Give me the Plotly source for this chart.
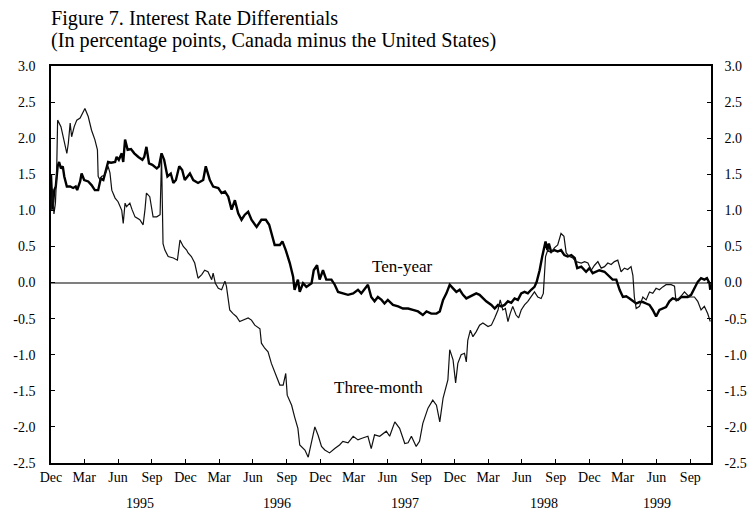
import pandas as pd
import plotly.graph_objects as go

# ---------------- data ----------------
BASE_DATE = "1994-12-01"  # offsets below are days since this date

ten_year_days = [0, 4, 9, 13, 18, 22, 27, 32, 36, 43, 52, 60, 67, 71, 79, 83, 90, 101, 110, 119,
                 128, 135, 142, 146, 155, 163, 174, 178, 184, 192, 196, 201, 208, 217, 226, 237, 248, 253, 259, 266,
                 275, 287, 293, 300, 307, 316, 325, 332, 339, 348, 356, 363, 377, 386, 399, 413, 420, 431, 440, 454,
                 463, 472, 481, 490, 499, 508, 517, 526, 535, 544, 558, 571, 583, 592, 601, 607, 621, 628, 637, 648,
                 657, 661, 670, 675, 684, 693, 707, 713, 722, 729, 738, 747, 761, 770, 779, 792, 806, 820, 833, 842,
                 856, 860, 869, 878, 887, 897, 905, 914, 928, 942, 955, 969, 982, 996, 1009, 1019, 1032, 1046, 1055, 1064,
                 1073, 1082, 1091, 1100, 1109, 1118, 1127, 1136, 1145, 1154, 1163, 1172, 1181, 1195, 1204, 1213, 1222, 1231, 1240, 1249,
                 1258, 1267, 1276, 1285, 1294, 1303, 1312, 1318, 1326, 1333, 1337, 1342, 1347, 1351, 1357, 1366, 1375, 1384, 1393, 1402,
                 1412, 1421, 1428, 1439, 1452, 1461, 1470, 1488, 1502, 1515, 1524, 1534, 1543, 1552, 1561, 1570, 1579, 1588, 1597, 1606,
                 1615, 1624, 1633, 1642, 1651, 1660, 1669, 1678, 1687, 1701, 1710, 1719, 1728, 1737, 1746, 1755, 1764, 1773, 1780, 1787,
                 1789]
ten_year_vals = [1.49, 1.01, 1.28, 1.33, 1.61, 1.67, 1.58, 1.61, 1.47, 1.33, 1.33, 1.31, 1.33, 1.28, 1.40, 1.51, 1.42, 1.40, 1.35, 1.28,
                 1.28, 1.44, 1.42, 1.51, 1.67, 1.66, 1.67, 1.74, 1.70, 1.79, 1.67, 1.98, 1.84, 1.85, 1.79, 1.74, 1.70, 1.74, 1.88, 1.65,
                 1.63, 1.58, 1.61, 1.79, 1.70, 1.47, 1.51, 1.38, 1.42, 1.61, 1.56, 1.42, 1.51, 1.42, 1.38, 1.42, 1.61, 1.42, 1.33, 1.31,
                 1.24, 1.26, 1.19, 1.01, 1.14, 0.96, 0.87, 0.94, 0.98, 0.87, 0.77, 0.87, 0.87, 0.80, 0.64, 0.52, 0.52, 0.57, 0.45, 0.27,
                 0.08, -0.10, 0.04, -0.13, -0.01, -0.06, -0.01, 0.17, 0.24, 0.04, 0.17, 0.04, 0.04, -0.03, -0.13, -0.15, -0.17, -0.15, -0.10, -0.15,
                 -0.06, -0.03, -0.20, -0.26, -0.20, -0.24, -0.29, -0.24, -0.31, -0.33, -0.36, -0.36, -0.38, -0.40, -0.45, -0.40, -0.43, -0.43, -0.40, -0.24,
                 -0.15, -0.03, -0.08, -0.13, -0.10, -0.17, -0.22, -0.20, -0.17, -0.15, -0.17, -0.22, -0.26, -0.31, -0.36, -0.31, -0.33, -0.31, -0.26, -0.28,
                 -0.22, -0.24, -0.15, -0.13, -0.15, -0.10, -0.06, 0.01, 0.17, 0.36, 0.48, 0.57, 0.45, 0.54, 0.43, 0.45, 0.43, 0.45, 0.38, 0.36,
                 0.38, 0.34, 0.20, 0.22, 0.15, 0.20, 0.13, 0.17, 0.15, 0.08, 0.04, 0.04, -0.10, -0.20, -0.19, -0.22, -0.26, -0.29, -0.27, -0.27,
                 -0.29, -0.31, -0.38, -0.47, -0.38, -0.36, -0.34, -0.26, -0.22, -0.24, -0.20, -0.20, -0.20, -0.17, -0.08, 0.01, 0.06, 0.04, 0.06, -0.01,
                 -0.10]

three_month_days = [0, 4, 8, 12, 15, 18, 27, 36, 43, 47, 52, 56, 63, 70, 79, 88, 92, 101, 110, 119,
                    126, 128, 133, 137, 146, 155, 160, 165, 174, 182, 192, 196, 201, 205, 214, 220, 228, 241, 250, 255,
                    259, 268, 273, 277, 287, 296, 300, 304, 309, 318, 332, 343, 350, 359, 368, 372, 381, 390, 399, 409,
                    417, 426, 436, 440, 446, 454, 463, 472, 476, 480, 485, 494, 503, 512, 521, 535, 544, 553, 567, 571,
                    580, 589, 598, 607, 616, 621, 630, 637, 641, 653, 661, 670, 675, 689, 698, 707, 716, 725, 734, 743,
                    756, 770, 783, 792, 806, 820, 833, 842, 860, 869, 878, 892, 910, 919, 933, 946, 960, 969, 978, 991,
                    1000, 1009, 1023, 1036, 1046, 1055, 1064, 1077, 1082, 1091, 1098, 1104, 1113, 1122, 1127, 1131, 1138, 1145, 1154, 1163,
                    1172, 1186, 1195, 1204, 1213, 1219, 1226, 1233, 1240, 1246, 1253, 1262, 1269, 1276, 1285, 1294, 1303, 1312, 1321, 1330,
                    1336, 1339, 1342, 1348, 1357, 1366, 1375, 1384, 1392, 1398, 1407, 1416, 1425, 1439, 1448, 1457, 1466, 1475, 1484, 1493,
                    1502, 1511, 1520, 1529, 1538, 1547, 1556, 1565, 1574, 1579, 1583, 1588, 1597, 1606, 1615, 1624, 1633, 1642, 1651, 1660,
                    1669, 1683, 1692, 1696, 1705, 1719, 1732, 1746, 1755, 1764, 1773, 1782, 1789]
three_month_vals = [1.00, 1.30, 0.95, 1.10, 1.45, 2.25, 2.16, 1.93, 1.79, 1.93, 2.21, 2.02, 2.16, 2.25, 2.28, 2.37, 2.41, 2.30, 2.11, 1.98,
                    1.84, 1.47, 1.42, 1.47, 1.49, 1.61, 1.52, 1.28, 1.17, 1.12, 1.00, 0.82, 1.10, 1.05, 1.10, 1.01, 0.91, 0.87, 0.80, 1.01,
                    1.24, 1.19, 1.05, 0.91, 0.91, 0.94, 1.74, 0.54, 0.45, 0.36, 0.34, 0.31, 0.59, 0.50, 0.45, 0.41, 0.36, 0.27, 0.06, 0.11,
                    0.17, 0.15, 0.04, 0.13, -0.01, -0.08, -0.10, 0.02, -0.05, -0.19, -0.38, -0.43, -0.47, -0.54, -0.52, -0.49, -0.52, -0.59, -0.64, -0.84,
                    -0.91, -0.96, -1.12, -1.23, -1.35, -1.42, -1.42, -1.26, -1.56, -1.70, -1.86, -2.02, -2.25, -2.32, -2.42, -2.23, -2.00, -2.12, -2.27, -2.32,
                    -2.36, -2.30, -2.25, -2.20, -2.22, -2.13, -2.18, -2.16, -2.13, -2.30, -2.11, -2.13, -2.06, -2.13, -1.93, -2.02, -2.23, -2.22, -2.13, -2.27,
                    -2.20, -1.95, -1.74, -1.63, -1.70, -1.93, -1.60, -1.35, -0.93, -1.07, -1.39, -1.12, -1.00, -0.98, -1.10, -0.80, -0.66, -0.75, -0.68, -0.59,
                    -0.56, -0.61, -0.59, -0.49, -0.38, -0.24, -0.38, -0.36, -0.54, -0.43, -0.33, -0.45, -0.49, -0.38, -0.31, -0.26, -0.20, -0.13, -0.20, -0.22,
                    -0.15, 0.08, 0.36, 0.45, 0.41, 0.48, 0.52, 0.68, 0.64, 0.41, 0.36, 0.34, 0.29, 0.27, 0.29, 0.27, 0.17, 0.24, 0.29, 0.20,
                    0.22, 0.27, 0.25, 0.29, 0.31, 0.15, 0.20, 0.18, 0.22, 0.10, -0.20, -0.36, -0.33, -0.20, -0.24, -0.13, -0.15, -0.08, -0.10, -0.06,
                    -0.03, -0.03, -0.05, -0.26, -0.22, -0.13, -0.20, -0.20, -0.26, -0.38, -0.33, -0.43, -0.54]

x_tick_dates = ["1994-12-01", "1995-03-01", "1995-06-01", "1995-09-01",
                "1995-12-01", "1996-03-01", "1996-06-01", "1996-09-01",
                "1996-12-01", "1997-03-01", "1997-06-01", "1997-09-01",
                "1997-12-01", "1998-03-01", "1998-06-01", "1998-09-01",
                "1998-12-01", "1999-03-01", "1999-06-01", "1999-09-01"]
x_tick_labels = ["Dec", "Mar", "Jun", "Sep"] * 5
year_labels = ["1995", "1996", "1997", "1998", "1999"]
year_label_dates = ["1995-07-30", "1996-08-04", "1997-07-18", "1998-08-01", "1999-06-02"]
y_tick_vals = [-2.5, -2.0, -1.5, -1.0, -0.5, 0.0, 0.5, 1.0, 1.5, 2.0, 2.5, 3.0]
y_tick_labels = ["-2.5", "-2.0", "-1.5", "-1.0", "-0.5", "0.0", "0.5", "1.0", "1.5", "2.0", "2.5", "3.0"]

title_line1 = "Figure 7. Interest Rate Differentials"
title_line2 = "(In percentage points, Canada minus the United States)"

# ---------------- figure ----------------
base = pd.Timestamp(BASE_DATE)
ten_dates = base + pd.to_timedelta(ten_year_days, unit="D")
three_dates = base + pd.to_timedelta(three_month_days, unit="D")

FONT = "Liberation Serif, Times New Roman, serif"

fig = go.Figure()
# three-month series is drawn against the right-hand axis (identical scale)
fig.add_trace(go.Scatter(x=three_dates, y=three_month_vals, mode="lines", name="Three-month",
                         yaxis="y2", line=dict(color="#111111", width=1.2)))
fig.add_trace(go.Scatter(x=ten_dates, y=ten_year_vals, mode="lines", name="Ten-year",
                         line=dict(color="#000000", width=2.4)))

axis_common = dict(showgrid=False, ticks="inside", ticklen=4, tickwidth=1, tickcolor="black",
                   showline=True, linecolor="black", linewidth=1.5, automargin=False,
                   tickfont=dict(family=FONT, size=14, color="black"))

fig.update_layout(
    width=750, height=512,
    margin=dict(l=51, r=39, t=66, b=49, autoexpand=False),
    paper_bgcolor="white", plot_bgcolor="white",
    showlegend=False,
    font=dict(family=FONT, color="black"),
    xaxis=dict(type="date", range=["1994-12-01", "1999-10-27"],
               tickmode="array", tickvals=x_tick_dates, ticktext=x_tick_labels,
               mirror=True, ticklabelstandoff=0, **axis_common),
    yaxis=dict(range=[-2.5, 3.0], tickmode="array", tickvals=y_tick_vals, ticktext=y_tick_labels,
               zeroline=True, zerolinecolor="#7f7f7f", zerolinewidth=1.5,
               ticklabelstandoff=11, **axis_common),
    yaxis2=dict(range=[-2.5, 3.0], overlaying="y", side="right", tickmode="array",
                tickvals=y_tick_vals, ticktext=y_tick_labels, zeroline=False,
                ticklabelstandoff=9, **axis_common),
)

annotations = [
    dict(text=title_line1, xref="paper", yref="paper", x=-0.003, y=1.1184,
         xanchor="left", yanchor="middle", showarrow=False, font=dict(family=FONT, size=20.2)),
    dict(text=title_line2, xref="paper", yref="paper", x=-0.003, y=1.0642,
         xanchor="left", yanchor="middle", showarrow=False, font=dict(family=FONT, size=20.2)),
    dict(text="Ten-year", xref="x", yref="y", x="1997-07-10", y=0.22,
         showarrow=False, font=dict(family=FONT, size=17)),
    dict(text="Three-month", xref="x", yref="y", x="1997-05-08", y=-1.45,
         showarrow=False, font=dict(family=FONT, size=17)),
]
for lbl, d in zip(year_labels, year_label_dates):
    annotations.append(dict(text=lbl, xref="x", yref="paper", x=d, y=-0.103,
                            xanchor="center", yanchor="middle", showarrow=False,
                            font=dict(family=FONT, size=14)))
fig.update_layout(annotations=annotations)

# drop the browser's default 8px body margin so the 750x512 figure fills the window
fig.write_html("out.html",
               config={"displayModeBar": False},
               post_script="document.body.style.margin='0';document.body.style.overflow='hidden';")
